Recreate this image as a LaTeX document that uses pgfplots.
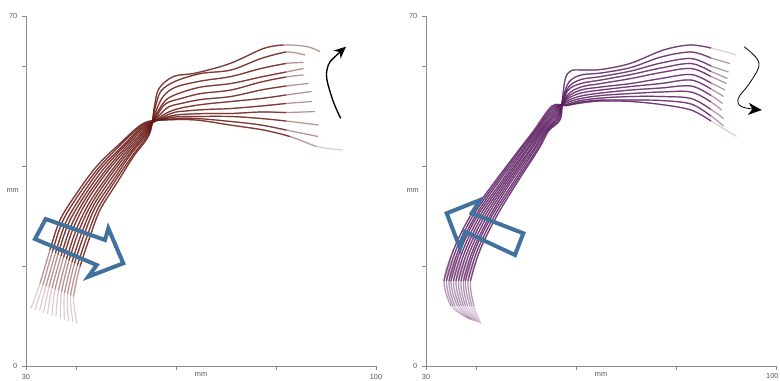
\documentclass[border=0pt]{standalone}
\usepackage{fontspec}
\setmainfont{Liberation Sans}
\usepackage{pgfplots}
\usepackage{pgfplotstable}
\pgfplotsset{compat=1.18}
\usetikzlibrary{arrows.meta}
\definecolor{lc}{HTML}{661510}
\definecolor{rc}{HTML}{5A1A5E}
\definecolor{ab}{HTML}{41719C}
\definecolor{axg}{HTML}{8A8A8A}
\definecolor{txg}{HTML}{555555}
% ---- left panel contours (mm) ----
\pgfplotstableread[row sep=\\]{x y\\ 31.0 11.5\\ 32.8 16.5\\ 34.8 23.2\\ 36.8 29.2\\ 40.1 34.5\\ 44.1 39.9\\ 48.8 44.5\\ 53.6 48.6\\ 58 49.2\\ 64 49.2\\ 70.8 48.2\\ 77.5 47.2\\ 82.8 45.9\\ 88.1 43.9\\ 93.4 43.2\\}\La
\pgfplotstableread[row sep=\\]{x y\\ 31.8 11.2\\ 33.4 16.3\\ 35.3 22.9\\ 37.3 28.9\\ 40.5 34.2\\ 44.5 39.6\\ 49.0 44.3\\ 53.7 48.4\\ 59 49.4\\ 64 49.5\\ 71 48.9\\ 77 48.2\\ 82 47.2\\ 88.4 45.9\\}\Lb
\pgfplotstableread[row sep=\\]{x y\\ 32.7 11.0\\ 34.0 16.0\\ 35.9 22.6\\ 37.9 28.6\\ 41.0 33.9\\ 44.8 39.3\\ 49.3 44.0\\ 53.8 48.2\\ 59 49.7\\ 64 49.9\\ 71 49.9\\ 77 49.5\\ 82 49.0\\ 88.5 48.2\\}\Lc
\pgfplotstableread[row sep=\\]{x y\\ 33.5 10.7\\ 34.6 15.8\\ 36.4 22.3\\ 38.4 28.3\\ 41.4 33.6\\ 45.2 39.0\\ 49.5 43.8\\ 53.9 48.0\\ 59 50.0\\ 63 50.4\\ 67 50.5\\ 71 50.5\\ 77 50.8\\ 82 50.7\\ 87.8 50.9\\}\Ld
\pgfplotstableread[row sep=\\]{x y\\ 34.3 10.4\\ 35.2 15.6\\ 37.0 22.0\\ 39.0 28.0\\ 41.8 33.3\\ 45.6 38.7\\ 49.8 43.6\\ 54.0 47.8\\ 59 50.5\\ 62 51.0\\ 66 51.3\\ 71 51.5\\ 77 52.0\\ 82 52.5\\ 87.2 52.9\\}\Le
\pgfplotstableread[row sep=\\]{x y\\ 35.2 10.1\\ 35.8 15.3\\ 37.5 21.7\\ 39.5 27.7\\ 42.2 33.0\\ 45.9 38.4\\ 50.0 43.3\\ 54.1 47.6\\ 56.5 49.6\\ 59 51.0\\ 62 51.8\\ 66 52.4\\ 71 52.9\\ 77 53.5\\ 82 54.2\\ 87.1 54.9\\}\Lf
\pgfplotstableread[row sep=\\]{x y\\ 36.0 9.9\\ 36.5 15.1\\ 38.1 21.4\\ 40.1 27.4\\ 42.7 32.7\\ 46.3 38.0\\ 50.3 43.1\\ 54.2 47.4\\ 56.5 50.0\\ 58.5 51.8\\ 61 52.5\\ 65 53.3\\ 71 53.9\\ 77 55.2\\ 82 56.0\\ 86.5 56.5\\}\Lg
\pgfplotstableread[row sep=\\]{x y\\ 36.9 9.6\\ 37.1 14.8\\ 38.6 21.1\\ 40.6 27.1\\ 43.1 32.4\\ 46.6 37.7\\ 50.5 42.8\\ 54.3 47.2\\ 56.3 50.3\\ 58 52.5\\ 61 53.5\\ 65 54.5\\ 71 55.2\\ 77 56.8\\ 82 57.8\\ 85.5 58.2\\}\Lh
\pgfplotstableread[row sep=\\]{x y\\ 37.7 9.3\\ 37.7 14.6\\ 39.2 20.8\\ 41.2 26.8\\ 43.5 32.1\\ 47.0 37.4\\ 50.8 42.6\\ 54.4 47.0\\ 56.2 50.6\\ 58 53.2\\ 60.5 54.5\\ 65 55.8\\ 71 56.5\\ 77 57.8\\ 82 58.8\\ 85.5 59.5\\}\Li
\pgfplotstableread[row sep=\\]{x y\\ 38.5 9.0\\ 38.3 14.4\\ 39.7 20.5\\ 41.7 26.5\\ 43.9 31.8\\ 47.4 37.1\\ 51.0 42.4\\ 54.5 46.8\\ 56 51.0\\ 57.5 54.0\\ 60 55.8\\ 65 57.0\\ 71 57.9\\ 77 59.5\\ 82 60.5\\ 85.5 60.7\\}\Lj
\pgfplotstableread[row sep=\\]{x y\\ 39.4 8.8\\ 38.9 14.1\\ 40.3 20.2\\ 42.3 26.2\\ 44.4 31.5\\ 47.7 36.8\\ 51.3 42.1\\ 54.6 46.6\\ 55.8 51.5\\ 57 55.0\\ 60 57.0\\ 65 58.5\\ 71 59.2\\ 77 61.5\\ 82 62.8\\ 85.8 62.2\\}\Lk
\pgfplotstableread[row sep=\\]{x y\\ 40.2 8.5\\ 39.5 13.9\\ 40.8 19.9\\ 42.8 25.9\\ 44.8 31.2\\ 48.1 36.5\\ 51.5 41.9\\ 54.7 46.4\\ 55.7 52.0\\ 56.6 55.5\\ 59.5 57.9\\ 64 58.6\\ 70.8 60.5\\ 77.5 63.5\\ 81.5 64.2\\ 86.1 63.9\\ 88.8 62.9\\}\Ll
% ---- right panel contours (mm) ----
\pgfplotstableread[row sep=\\]{x y\\ 38.5 9.5\\ 35.0 12.0\\ 33.6 17.0\\ 35.5 23.2\\ 38.8 29.9\\ 43.5 36.5\\ 48.8 43.5\\ 51.5 47.0\\ 55.2 52.0\\ 58 52.1\\ 61 52.6\\ 65 53.0\\ 71 52.9\\ 77 52.3\\ 83 51.2\\ 87 49.0\\ 92.1 45.9\\}\Ra
\pgfplotstableread[row sep=\\]{x y\\ 38.7 9.4\\ 35.4 12.0\\ 34.1 17.0\\ 36.0 23.2\\ 39.3 29.9\\ 43.9 36.5\\ 49.1 43.5\\ 51.8 47.0\\ 55.35 51.75\\ 58 52.1\\ 61 52.8\\ 65 53.2\\ 71 53.2\\ 77 53.1\\ 83 52.4\\ 87 50.0\\ 89.5 48.0\\}\Rb
\pgfplotstableread[row sep=\\]{x y\\ 39.0 9.3\\ 35.8 12.0\\ 34.6 17.0\\ 36.5 23.2\\ 39.8 29.9\\ 44.3 36.5\\ 49.5 43.5\\ 52.0 47.0\\ 55.5 51.5\\ 58 52.3\\ 61 53.1\\ 65 53.6\\ 71 53.9\\ 77 53.9\\ 83 53.5\\ 87 51.3\\ 89.5 49.5\\}\Rc
\pgfplotstableread[row sep=\\]{x y\\ 39.2 9.2\\ 36.3 12.0\\ 35.0 17.0\\ 36.9 23.2\\ 40.2 29.9\\ 44.8 36.5\\ 49.8 43.5\\ 52.3 47.0\\ 55.65 51.25\\ 58 52.6\\ 61 53.5\\ 65 54.1\\ 71 54.5\\ 77 54.8\\ 83 54.8\\ 87 52.8\\ 89.1 51.2\\}\Rd
\pgfplotstableread[row sep=\\]{x y\\ 39.4 9.1\\ 36.7 12.0\\ 35.5 17.0\\ 37.4 23.2\\ 40.7 29.9\\ 45.2 36.5\\ 50.2 43.5\\ 52.6 47.0\\ 55.8 51.0\\ 58 52.9\\ 61 54.0\\ 65 54.6\\ 71 55.2\\ 77 55.6\\ 83 56.0\\ 87 54.1\\ 89.3 52.5\\}\Re
\pgfplotstableread[row sep=\\]{x y\\ 39.6 9.0\\ 37.1 12.0\\ 36.0 17.0\\ 37.9 23.2\\ 41.2 29.9\\ 45.6 36.5\\ 50.5 43.5\\ 52.9 47.0\\ 55.95 50.75\\ 58.1 53.3\\ 61 54.6\\ 65 55.2\\ 71 55.9\\ 77 56.5\\ 83 57.2\\ 87 55.4\\ 89.5 53.9\\}\Rf
\pgfplotstableread[row sep=\\]{x y\\ 39.9 9.0\\ 37.5 12.0\\ 36.5 17.0\\ 38.4 23.2\\ 41.7 29.9\\ 46.0 36.5\\ 50.9 43.5\\ 53.1 47.0\\ 56.1 50.5\\ 58.2 53.7\\ 61 55.2\\ 65 55.8\\ 71 56.5\\ 77 57.5\\ 83 58.3\\ 87 56.6\\ 89.8 55.2\\}\Rg
\pgfplotstableread[row sep=\\]{x y\\ 40.1 8.9\\ 37.9 12.0\\ 37.0 17.0\\ 38.9 23.2\\ 42.2 29.9\\ 46.4 36.5\\ 51.2 43.5\\ 53.4 47.0\\ 56.25 50.25\\ 58.3 54.2\\ 61 55.8\\ 65 56.5\\ 71 57.5\\ 77 58.7\\ 83 59.5\\ 87 57.9\\ 90.1 56.5\\}\Rh
\pgfplotstableread[row sep=\\]{x y\\ 40.3 8.8\\ 38.3 12.0\\ 37.5 17.0\\ 39.4 23.2\\ 42.7 29.9\\ 46.8 36.5\\ 51.6 43.5\\ 53.7 47.0\\ 56.4 50.0\\ 58.3 55.0\\ 61 56.5\\ 65 57.2\\ 71 58.3\\ 77 59.6\\ 83 60.5\\ 87 58.9\\ 90.3 57.5\\}\Ri
\pgfplotstableread[row sep=\\]{x y\\ 40.5 8.7\\ 38.8 12.0\\ 37.9 17.0\\ 39.8 23.2\\ 43.1 29.9\\ 47.3 36.5\\ 51.9 43.5\\ 54.0 47.0\\ 56.55 49.75\\ 57.3 53.0\\ 58.6 55.9\\ 61 57.3\\ 65 57.9\\ 71 59.0\\ 77 60.6\\ 83 61.5\\ 87 60.0\\ 90.5 58.8\\}\Rj
\pgfplotstableread[row sep=\\]{x y\\ 40.8 8.6\\ 39.2 12.0\\ 38.4 17.0\\ 40.3 23.2\\ 43.6 29.9\\ 47.7 36.5\\ 52.3 43.5\\ 54.2 47.0\\ 56.7 49.5\\ 57.4 53.5\\ 58.6 56.8\\ 61 58.2\\ 65 58.6\\ 71 59.7\\ 77 61.8\\ 83 62.8\\ 87 61.6\\ 90.8 60.5\\}\Rk
\pgfplotstableread[row sep=\\]{x y\\ 41.0 8.5\\ 39.6 12.0\\ 38.9 17.0\\ 40.8 23.2\\ 44.1 29.9\\ 48.1 36.5\\ 52.6 43.5\\ 54.5 47.0\\ 56.85 49.3\\ 57.3 53.5\\ 57.9 57.6\\ 59.1 59.1\\ 61.5 59.2\\ 65 59.3\\ 70.8 60.5\\ 77.5 63.2\\ 82.8 64.2\\ 87 63.6\\ 92.1 62.2\\}\Rl
\pgfplotsset{panel/.style={
  scale only axis, width=262.5pt, height=262.5pt,
  xmin=30, xmax=100, ymin=0, ymax=70,
  axis x line=bottom, axis y line=left,
  axis line style={-, axg, line width=0.6pt},
  xtick={30,40,60,80,100},
  ytick={0,20,40,60,70}, yticklabels={0,,,,70},
  tick style={axg, line width=0.5pt}, major tick length=3pt, tick align=outside,
  ticklabel style={font=\fontsize{5.5}{6}\selectfont, text=txg},
  /pgf/number format/assume math mode=true,
  clip=false,
  xlabel={mm},
  xlabel style={at={(axis description cs:0.5,0)}, anchor=north, yshift=-1.5pt,
    font=\fontsize{5.5}{6}\selectfont, text=txg},
  every axis plot/.append style={smooth, tension=0.55, no marks, line width=0.9pt},
}}
% #1 colour, #2 table, #3/#4 mid fade limits (y min, x max), #5/#6 core limits
\newcommand\curve[6]{%
  \addplot[#1, opacity=0.22] table {#2};
  \addplot[#1, opacity=0.32, restrict y to domain=#3:100, restrict x to domain=0:#4] table {#2};
  \addplot[#1, opacity=0.72, restrict y to domain=#5:100, restrict x to domain=0:#6] table {#2};}
\begin{document}
\begin{tikzpicture}
\path[use as bounding box] (-19.5pt,-10.5pt) rectangle (565.5pt,274.5pt);
% ---------------- left panel ----------------
\begin{axis}[panel, at={(0pt,0pt)}, anchor=south west, xticklabels={30,,,,100}]
\curve{lc}{\La}{13}{89}{19}{84.5}
\curve{lc}{\Lb}{13}{89}{19}{84.5}
\curve{lc}{\Lc}{13}{89}{19}{84.5}
\curve{lc}{\Ld}{13}{89}{19}{84.5}
\curve{lc}{\Le}{13}{89}{19}{84.5}
\curve{lc}{\Lf}{13}{89}{19}{84.5}
\curve{lc}{\Lg}{13}{89}{19}{84.5}
\curve{lc}{\Lh}{13}{89}{19}{84.5}
\curve{lc}{\Li}{13}{89}{19}{84.5}
\curve{lc}{\Lj}{13}{89}{19}{84.5}
\curve{lc}{\Lk}{13}{89}{19}{84.5}
\curve{lc}{\Ll}{13}{89}{19}{84.5}
\draw[ab, line width=3pt, line join=miter] (axis cs:33.94,29.4) -- (axis cs:45.8,25.2) -- (axis cs:46.46,27.54) -- (axis cs:49.46,20.54) -- (axis cs:42.46,17.86) -- (axis cs:44.14,20.2) -- (axis cs:31.8,25.4) -- cycle;
\draw[black, line width=1pt, -{Stealth[length=9pt,width=8pt]}] plot[smooth, tension=0.6] coordinates {(axis cs:92.94,49.54) (axis cs:91.47,52.86) (axis cs:90.14,57.54) (axis cs:90.47,60.2) (axis cs:91.47,61.54) (axis cs:94.0,63.86)};
\node[font=\fontsize{5.5}{6}\selectfont, text=txg] at (rel axis cs:0,0.5) [xshift=-10pt] {mm};
\end{axis}
% ---------------- right panel ----------------
\begin{axis}[panel, at={(300pt,0pt)}, anchor=south west, xticklabels={30,,,,}]
\curve{rc}{\Ra}{11}{91}{16}{88}
\curve{rc}{\Rb}{11}{91}{16}{88}
\curve{rc}{\Rc}{11}{91}{16}{88}
\curve{rc}{\Rd}{11}{91}{16}{88}
\curve{rc}{\Re}{11}{91}{16}{88}
\curve{rc}{\Rf}{11}{91}{16}{88}
\curve{rc}{\Rg}{11}{91}{16}{88}
\curve{rc}{\Rh}{11}{91}{16}{88}
\curve{rc}{\Ri}{11}{91}{16}{88}
\curve{rc}{\Rj}{11}{91}{16}{88}
\curve{rc}{\Rk}{11}{91}{16}{88}
\curve{rc}{\Rl}{11}{91}{16}{88}
\draw[ab, line width=3pt, line join=miter] (axis cs:34.14,30.54) -- (axis cs:40.8,33.2) -- (axis cs:39.14,30.54) -- (axis cs:49.46,26.54) -- (axis cs:47.8,22.2) -- (axis cs:37.8,26.86) -- (axis cs:36.8,23.54) -- cycle;
\draw[black, line width=0.6pt, -{Stealth[length=10pt,width=9pt,inset=3pt]}] plot[smooth, tension=0.6] coordinates {(axis cs:93.66,63.86) (axis cs:96.14,61.54) (axis cs:96.46,59.54) (axis cs:94.46,56.2) (axis cs:92.46,53.54) (axis cs:93.14,51.86) (axis cs:97.14,51.2)};
\node[font=\fontsize{5.5}{6}\selectfont, text=txg] at (rel axis cs:0,0.5) [xshift=-10pt] {mm};
\node[font=\fontsize{5.5}{6}\selectfont, text=txg, anchor=north east, inner sep=1pt] at (axis cs:100,0) [yshift=-4.5pt, xshift=3pt] {100};
\end{axis}
\end{tikzpicture}
\end{document}
